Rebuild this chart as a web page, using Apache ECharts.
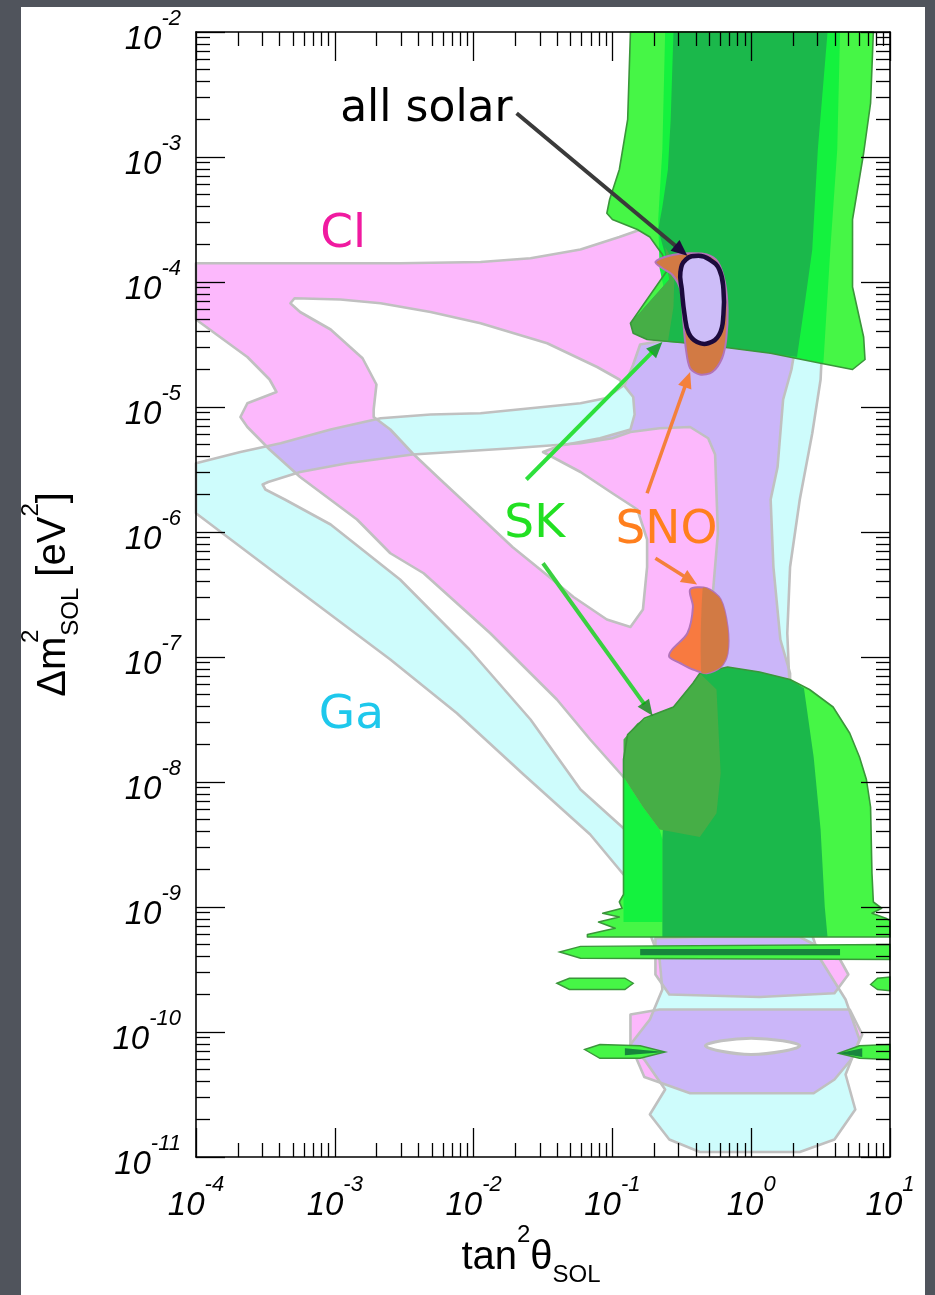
<!DOCTYPE html>
<html>
<head>
<meta charset="utf-8">
<title>Solar neutrino allowed regions</title>
<script src="https://cdn.jsdelivr.net/npm/echarts@6/dist/echarts.min.js"></script>
<style>
  html, body { margin:0; padding:0; width:935px; height:1295px; overflow:hidden; background:#50545c; }
  #panel { position:absolute; left:21px; top:7px; width:904px; height:1300px; background:#ffffff; }
  #chart { position:absolute; left:0; top:0; width:935px; height:1295px; }
</style>
</head>
<body>
<div id="panel"></div>
<div id="chart"></div>
<script>
// ---------- axes (log10 of the values) ----------
const X_DECADES = [-4, -3, -2, -1, 0, 1];            // tan^2(theta)
const Y_DECADES = [-2, -3, -4, -5, -6, -7, -8, -9, -10, -11]; // Delta m^2 [eV^2]

// ---------- regions: [log10 tan^2, log10 dm^2] ----------
const GA_OUTER = [[-4.00,-5.45],[-3.68,-5.36],[-3.39,-5.29],[-3.03,-5.18],[-2.67,-5.09],[-2.31,-5.06],[-1.95,-5.05],[-1.59,-5.01],[-1.23,-4.97],[-1.05,-4.93],[-0.91,-4.82],[-0.85,-4.66],[-0.80,-4.50],[-0.37,-4.42],[0.21,-4.42],[0.51,-4.54],[0.50,-4.78],[0.44,-5.21],[0.35,-5.74],[0.28,-6.28],[0.26,-6.81],[0.28,-7.34],[0.32,-8.14],[0.35,-8.94],[0.50,-9.42],[0.68,-9.74],[0.78,-10.06],[0.68,-10.34],[0.75,-10.62],[0.60,-10.86],[0.35,-10.96],[-0.37,-10.96],[-0.59,-10.86],[-0.73,-10.66],[-0.62,-10.46],[-0.77,-10.22],[-0.87,-10.10],[-0.73,-9.90],[-0.64,-9.66],[-0.66,-9.42],[-0.74,-9.18],[-0.80,-8.94],[-0.89,-8.78],[-1.16,-8.42],[-1.64,-7.94],[-2.12,-7.45],[-2.60,-7.02],[-3.32,-6.42],[-4.00,-5.85]];
const GA_HOLE = [[-3.48,-5.60],[-3.25,-5.52],[-2.91,-5.45],[-2.44,-5.38],[-1.72,-5.33],[-1.23,-5.29],[-1.00,-5.25],[-0.87,-5.20],[-0.66,-5.17],[-0.44,-5.16],[-0.31,-5.25],[-0.26,-5.38],[-0.24,-6.01],[-0.28,-6.54],[-0.28,-7.02],[-0.25,-7.34],[-0.24,-7.98],[-0.26,-8.38],[-0.37,-8.45],[-0.66,-8.42],[-0.91,-8.38],[-1.23,-8.06],[-1.59,-7.50],[-2.03,-6.94],[-2.53,-6.38],[-3.03,-5.94],[-3.36,-5.74],[-3.50,-5.66],[-3.52,-5.62]];
const GA_LOOP = [[-0.33,-10.11],[0.00,-10.05],[0.35,-10.11],[0.00,-10.18]];

const CL_OUTER = [[-4.00,-3.85],[-3.25,-3.85],[-2.53,-3.85],[-1.95,-3.84],[-1.59,-3.81],[-1.23,-3.74],[-0.95,-3.64],[-0.77,-3.57],[-0.59,-3.62],[-0.44,-4.14],[-0.01,-4.42],[0.32,-4.50],[0.29,-4.70],[0.23,-4.94],[0.19,-5.48],[0.14,-5.74],[0.16,-6.28],[0.21,-6.86],[0.28,-7.13],[0.28,-7.82],[0.24,-8.54],[-0.22,-8.50],[-0.37,-8.44],[-0.66,-8.38],[-0.78,-8.20],[-0.92,-7.96],[-1.16,-7.66],[-1.40,-7.34],[-1.88,-6.81],[-2.36,-6.33],[-2.60,-6.17],[-2.84,-5.90],[-3.25,-5.56],[-3.47,-5.34],[-3.63,-5.16],[-3.68,-5.08],[-3.63,-4.97],[-3.42,-4.88],[-3.47,-4.78],[-3.63,-4.60],[-4.00,-4.30]];
const CL_HOLE = [[-3.29,-4.13],[-2.96,-4.14],[-2.67,-4.17],[-2.31,-4.24],[-1.95,-4.33],[-1.47,-4.49],[-1.11,-4.68],[-0.95,-4.78],[-0.85,-4.92],[-0.84,-5.06],[-0.87,-5.18],[-1.09,-5.25],[-1.38,-5.31],[-1.50,-5.36],[-1.23,-5.52],[-1.00,-5.69],[-0.82,-5.82],[-0.75,-6.06],[-0.75,-6.28],[-0.78,-6.62],[-0.87,-6.76],[-1.04,-6.70],[-1.28,-6.52],[-1.52,-6.30],[-1.72,-6.12],[-1.95,-5.88],[-2.24,-5.58],[-2.44,-5.37],[-2.60,-5.18],[-2.72,-5.08],[-2.72,-5.02],[-2.70,-4.82],[-2.80,-4.61],[-3.03,-4.38],[-3.25,-4.24],[-3.32,-4.17]];
const CL_LOW1 = [[-0.69,-9.25],[-0.37,-9.24],[0.35,-9.24],[0.63,-9.40],[0.70,-9.54],[0.60,-9.69],[0.06,-9.72],[-0.59,-9.70],[-0.69,-9.54]];
const CL_LOW2 = [[-0.87,-9.86],[-0.66,-9.82],[0.71,-9.82],[0.80,-10.02],[0.72,-10.22],[0.60,-10.38],[0.45,-10.49],[-0.44,-10.49],[-0.77,-10.36],[-0.87,-10.10]];

const SK_LIGHT_UP = [[-0.87,-2.00],[-0.89,-2.70],[-0.95,-3.10],[-1.02,-3.34],[-1.04,-3.45],[-1.00,-3.50],[-0.82,-3.58],[-0.73,-3.64],[-0.64,-3.78],[-0.60,-3.90],[-0.87,-4.33],[-0.85,-4.41],[-0.75,-4.46],[-0.35,-4.50],[0.14,-4.57],[0.50,-4.65],[0.73,-4.70],[0.82,-4.62],[0.81,-4.44],[0.73,-4.04],[0.73,-3.50],[0.81,-2.97],[0.86,-2.57],[0.88,-2.00]];
const SK_BRIGHT_UP = [[-0.62,-2.00],[-0.64,-2.94],[-0.67,-3.50],[-0.66,-3.89],[-0.62,-4.10],[-0.60,-4.48],[-0.35,-4.50],[0.14,-4.57],[0.52,-4.65],[0.57,-3.74],[0.62,-2.94],[0.64,-2.00]];
const SK_DARK_UP = [[-0.56,-2.00],[-0.58,-2.70],[-0.60,-3.10],[-0.64,-3.40],[-0.67,-3.58],[-0.62,-3.78],[-0.59,-3.98],[-0.87,-4.33],[-0.85,-4.41],[-0.75,-4.46],[-0.35,-4.50],[0.14,-4.57],[0.33,-4.60],[0.39,-4.14],[0.44,-3.74],[0.48,-2.94],[0.55,-2.00]];
const SK_OLIVE_UP = [[-0.62,-3.72],[-0.59,-3.98],[-0.87,-4.33],[-0.85,-4.41],[-0.75,-4.46],[-0.60,-4.48],[-0.56,-4.20],[-0.55,-3.85]];

const SK_LIGHT_LOW = [[-1.18,-9.22],[-0.98,-9.17],[-1.10,-9.12],[-0.95,-9.08],[-1.07,-9.05],[-0.93,-9.01],[-0.95,-8.96],[-0.92,-8.90],[-0.92,-7.82],[-0.89,-7.62],[-0.77,-7.49],[-0.56,-7.40],[-0.42,-7.21],[-0.37,-7.13],[-0.17,-7.08],[0.06,-7.12],[0.28,-7.18],[0.42,-7.26],[0.59,-7.40],[0.71,-7.61],[0.78,-7.80],[0.83,-7.98],[0.86,-8.20],[0.87,-8.73],[0.88,-8.96],[0.94,-9.01],[0.87,-9.05],[0.97,-9.09],[1.00,-9.11],[1.00,-9.24],[-1.18,-9.24]];
const SK_BRIGHT_LOW = [[-0.92,-7.96],[-0.78,-8.20],[-0.66,-8.38],[-0.64,-8.46],[-0.64,-9.12],[-0.92,-9.12]];
const SK_DARK_LOW = [[-0.64,-9.24],[-0.64,-8.46],[-0.62,-8.00],[-0.55,-7.55],[-0.37,-7.13],[-0.17,-7.08],[0.06,-7.12],[0.28,-7.18],[0.38,-7.25],[0.45,-7.80],[0.50,-8.38],[0.53,-9.00],[0.55,-9.24]];
const SK_OLIVE_LOW = [[-0.92,-7.96],[-0.92,-7.66],[-0.82,-7.53],[-0.68,-7.45],[-0.56,-7.40],[-0.42,-7.21],[-0.37,-7.13],[-0.25,-7.26],[-0.22,-7.93],[-0.25,-8.25],[-0.37,-8.44],[-0.66,-8.38],[-0.78,-8.20]];
const SK_STRIPE = [[-1.38,-9.36],[-1.23,-9.315],[1.00,-9.30],[1.00,-9.42],[-1.23,-9.41]];
const SK_STRIPE_DARK = [[-0.80,-9.335],[0.64,-9.335],[0.64,-9.385],[-0.80,-9.385]];
const SK_BLOB_L1 = [[-1.40,-9.61],[-1.31,-9.57],[-0.91,-9.57],[-0.85,-9.61],[-0.91,-9.66],[-1.31,-9.66]];
const SK_BLOB_R1 = [[0.86,-9.62],[0.91,-9.57],[1.00,-9.56],[1.00,-9.67],[0.91,-9.66]];
const SK_BLOB_L2 = [[-1.20,-10.14],[-1.09,-10.10],[-0.80,-10.11],[-0.62,-10.16],[-0.80,-10.21],[-1.09,-10.21]];
const SK_BLOB_L2_DARK = [[-0.91,-10.13],[-0.62,-10.16],[-0.91,-10.185]];
const SK_BLOB_R2 = [[0.63,-10.17],[0.78,-10.11],[1.00,-10.10],[1.00,-10.22],[0.78,-10.21]];
const SK_BLOB_R2_DARK = [[0.63,-10.17],[0.80,-10.13],[0.80,-10.20]];

const SNO_UP = [[-0.69,-3.84],[-0.59,-3.79],[-0.44,-3.77],[-0.32,-3.78],[-0.24,-3.84],[-0.19,-4.00],[-0.17,-4.22],[-0.18,-4.46],[-0.21,-4.61],[-0.28,-4.72],[-0.37,-4.74],[-0.44,-4.69],[-0.47,-4.54],[-0.49,-4.30],[-0.51,-4.06],[-0.57,-3.94],[-0.64,-3.89]];
const SNO_LOW = [[-0.44,-6.46],[-0.32,-6.45],[-0.22,-6.54],[-0.17,-6.76],[-0.17,-6.97],[-0.22,-7.08],[-0.32,-7.13],[-0.42,-7.10],[-0.51,-7.05],[-0.59,-7.00],[-0.57,-6.94],[-0.46,-6.81],[-0.42,-6.60]];
const SNO_LOW_RIGHT = [[-0.35,-6.45],[-0.32,-6.45],[-0.22,-6.54],[-0.17,-6.76],[-0.17,-6.97],[-0.22,-7.08],[-0.32,-7.13],[-0.36,-7.12]];
const ALL_SOLAR = [[-0.47,-3.82],[-0.38,-3.79],[-0.30,-3.82],[-0.23,-3.90],[-0.20,-4.06],[-0.20,-4.26],[-0.23,-4.42],[-0.31,-4.49],[-0.39,-4.48],[-0.45,-4.41],[-0.48,-4.26],[-0.50,-4.06],[-0.51,-3.92]];

// ---------- annotations ----------
const ARROW_ALL = [[-1.69,-2.65],[-0.46,-3.79]];
const ARROW_SK_UP = [[-1.62,-5.58],[-0.64,-4.48]];
const ARROW_SK_LOW = [[-1.50,-6.25],[-0.71,-7.47]];
const ARROW_SNO_UP = [[-0.75,-5.69],[-0.44,-4.72]];
const ARROW_SNO_LOW = [[-0.69,-6.21],[-0.39,-6.42]];
const LABEL_TEXT = ['all solar', 'Cl', 'Ga', 'SK', 'SNO'];
const LABEL_POS = [[-2.34,-2.62],[-2.94,-3.62],[-2.88,-7.47],[-1.56,-5.94],[-0.61,-5.99]];

// ---------- styling ----------
const FONT = '"Liberation Sans", Helvetica, Arial, sans-serif';
const LFONT = '"DejaVu Sans", Verdana, sans-serif';
const CYAN = '#cefcfc', PINK = '#fcb8fc', GRAY = '#c0c0c0';
const LIGHTG = '#46f646', BRIGHTG = '#14f23e', DARKG = '#1bb84b', OLIVE = '#46ae46', GEDGE = '#3a963a';
const SK_ARROW_UP = '#2ee03c', SK_ARROW_LOW = '#3ad040';
const MULTIPLY_FILLS = [CYAN, PINK, SK_ARROW_UP, SK_ARROW_LOW];
const LABEL_COLORS = ['#000000', '#f01aa0', '#1ec8ec', '#22e022', '#ff7f1e'];

const xMin = Math.min(...X_DECADES), xMax = Math.max(...X_DECADES);
const yMin = Math.min(...Y_DECADES), yMax = Math.max(...Y_DECADES);

function minorTicks(decades) {
  const lo = Math.min(...decades), hi = Math.max(...decades), v = [];
  for (let e = lo; e < hi; e++) for (let k = 2; k <= 9; k++) v.push(e + Math.log10(k));
  return v;
}
function signedArea(p) {
  let a = 0;
  for (let i = 0; i < p.length; i++) { const q = p[(i + 1) % p.length]; a += p[i][0] * q[1] - q[0] * p[i][1]; }
  return a / 2;
}
function keyhole(outer, holes) {
  let pts = outer.slice();
  const s = Math.sign(signedArea(outer));
  const start = outer[0];
  holes.forEach(h => {
    const hh = Math.sign(signedArea(h)) === s ? h.slice().reverse() : h.slice();
    pts.push(start);
    pts = pts.concat(hh);
    pts.push(hh[0]);
    pts.push(start);
  });
  return pts;
}

const tickRich = {
  b: { fontFamily: FONT, fontStyle: 'italic', fontSize: 33, lineHeight: 48, verticalAlign: 'bottom', color: '#000' },
  s: { fontFamily: FONT, fontStyle: 'italic', fontSize: 22, verticalAlign: 'top', color: '#000' }
};
const titleRich = {
  a: { fontFamily: FONT, fontSize: 40, lineHeight: 70, color: '#000' },
  p: { fontFamily: FONT, fontSize: 24, verticalAlign: 'top', color: '#000', width: 1 },
  q: { fontFamily: FONT, fontSize: 24, verticalAlign: 'top', color: '#000' },
  c: { fontFamily: FONT, fontSize: 24, verticalAlign: 'bottom', padding: [0, 0, 6, 0], color: '#000' }
};
const fmt = v => '{b|10}{s|' + Math.round(v) + '}';

function mkAxis(kind, position, major, withLabels, extra) {
  const isX = kind === 'x';
  const ax = {
    type: 'value', gridIndex: 0, position: position,
    min: isX ? xMin : yMin, max: isX ? xMax : yMax, interval: 1, z: 30,
    axisLine: { show: major, onZero: false, lineStyle: { color: '#000', width: 1.6 } },
    axisTick: { show: true, inside: true, length: major ? 29 : 14, lineStyle: { color: '#000', width: 1.3 } },
    axisLabel: { show: withLabels, margin: isX ? 17 : 15, formatter: fmt, rich: tickRich },
    splitLine: { show: false }, minorTick: { show: false }, minorSplitLine: { show: false }
  };
  if (!major) ax.axisTick.customValues = minorTicks(isX ? X_DECADES : Y_DECADES);
  return Object.assign(ax, extra || {});
}

function renderItem(params, api) {
  const P = ring => ring.map(p => api.coord(p));
  const ch = [];
  const fill = (pts, color, extra) => ch.push({ type: 'polygon', silent: true,
    shape: { points: pts, smooth: (extra && extra.smooth) || 0 },
    style: Object.assign({ fill: color, stroke: 'none' }, (extra && extra.style) || {}) });
  const stroke = (pts, color, w, smooth) => ch.push({ type: 'polygon', silent: true,
    shape: { points: pts, smooth: smooth || 0 },
    style: { fill: 'none', stroke: color, lineWidth: w, lineJoin: 'round' } });

  // Ga and Cl (multiply blending gives the lavender overlap)
  fill(keyhole(P(GA_OUTER), [P(GA_HOLE)]), CYAN);
  fill(keyhole(P(CL_OUTER), [P(CL_HOLE)]), PINK);
  fill(P(CL_LOW1), PINK);
  fill(P(CL_LOW2), PINK);
  [GA_OUTER, GA_HOLE, CL_OUTER, CL_HOLE, CL_LOW1, CL_LOW2].forEach(r => stroke(P(r), GRAY, 2.6));
  fill(P(GA_LOOP), '#ffffff', { smooth: 0.4, style: { stroke: GRAY, lineWidth: 3 } });

  // SK upper
  fill(P(SK_LIGHT_UP), LIGHTG);
  fill(P(SK_BRIGHT_UP), BRIGHTG);
  fill(P(SK_DARK_UP), DARKG);
  fill(P(SK_OLIVE_UP), OLIVE);
  stroke(P(SK_LIGHT_UP), GEDGE, 1.6);
  // SK lower
  fill(P(SK_LIGHT_LOW), LIGHTG);
  fill(P(SK_BRIGHT_LOW), BRIGHTG);
  fill(P(SK_DARK_LOW), DARKG);
  fill(P(SK_OLIVE_LOW), OLIVE);
  stroke(P(SK_LIGHT_LOW), GEDGE, 1.6);
  [SK_STRIPE, SK_BLOB_L1, SK_BLOB_R1, SK_BLOB_L2, SK_BLOB_R2].forEach(r => {
    fill(P(r), LIGHTG, { style: { stroke: GEDGE, lineWidth: 1.4 } });
  });
  [SK_STRIPE_DARK, SK_BLOB_L2_DARK, SK_BLOB_R2_DARK].forEach(r => fill(P(r), '#17863c'));

  // SNO
  fill(P(SNO_UP), '#d27a44', { smooth: 0.3, style: { stroke: '#b273b8', lineWidth: 2 } });
  fill(P(SNO_LOW), '#f87a40', { smooth: 0.3, style: { stroke: '#b273b8', lineWidth: 2 } });
  fill(P(SNO_LOW_RIGHT), '#d27a44', { smooth: 0.3 });

  // all solar
  fill(P(ALL_SOLAR), '#cdbdf8', { smooth: 0.45, style: { stroke: '#1c0a3c', lineWidth: 4.5 } });

  // arrows
  const arrow = (seg, color, w, headColor) => {
    const a = api.coord(seg[0]), b = api.coord(seg[1]);
    const dx = b[0] - a[0], dy = b[1] - a[1], L = Math.hypot(dx, dy);
    const ux = dx / L, uy = dy / L, hl = 16, hw = 7;
    const bx = b[0] - ux * hl, by = b[1] - uy * hl;
    ch.push({ type: 'line', silent: true, shape: { x1: a[0], y1: a[1], x2: bx + ux * 2, y2: by + uy * 2 },
      style: { stroke: color, lineWidth: w, lineCap: 'butt' } });
    ch.push({ type: 'polygon', silent: true,
      shape: { points: [[b[0], b[1]], [bx - uy * hw, by + ux * hw], [bx + uy * hw, by - ux * hw]] },
      style: { fill: headColor || color, stroke: 'none' } });
  };
  arrow(ARROW_ALL, '#3a3a3a', 4, '#1c0a3c');
  arrow(ARROW_SK_UP, SK_ARROW_UP, 4);
  arrow(ARROW_SK_LOW, SK_ARROW_LOW, 4);
  arrow(ARROW_SNO_UP, '#f4803c', 3.5);
  arrow(ARROW_SNO_LOW, '#f4803c', 3.5);

  // labels
  LABEL_TEXT.forEach((t, i) => {
    const p = api.coord(LABEL_POS[i]);
    ch.push({ type: 'text', silent: true, x: p[0], y: p[1],
      style: { text: t, fill: LABEL_COLORS[i], fontFamily: LFONT, fontSize: i === 0 ? 44 : 47,
               align: 'center', verticalAlign: 'middle' } });
  });
  return { type: 'group', children: ch };
}

const chart = echarts.init(document.getElementById('chart'), null, { renderer: 'canvas' });
chart.setOption({
  backgroundColor: 'transparent',
  animation: false,
  grid: { left: 196, right: 45, top: 32, bottom: 138, containLabel: false, outerBoundsMode: 'none' },
  xAxis: [
    mkAxis('x', 'bottom', true, true, {
      name: '{a|tan}{q|2}{a|θ}{c|SOL}', nameLocation: 'middle', nameGap: 66, nameMoveOverlap: false,
      nameTextStyle: { rich: titleRich, padding: [0, 24, 0, 0] } }),
    mkAxis('x', 'bottom', false, false),
    mkAxis('x', 'top', true, false),
    mkAxis('x', 'top', false, false)
  ],
  yAxis: [
    mkAxis('y', 'left', true, true, {
      name: '{a|Δm}{p|2}{c|SOL}{a| [eV}{q|2}{a|]}', nameLocation: 'middle', nameRotate: 90, nameGap: 107,
      nameMoveOverlap: false, nameTextStyle: { rich: titleRich } }),
    mkAxis('y', 'left', false, false),
    mkAxis('y', 'right', true, false),
    mkAxis('y', 'right', false, false)
  ],
  series: [{
    type: 'custom', coordinateSystem: 'cartesian2d', xAxisIndex: 0, yAxisIndex: 0,
    data: [[xMin, yMin]], renderItem: renderItem, silent: true, z: 2
  }]
});

// Overlapping Cl / Ga regions combine multiplicatively (cyan x pink = lavender), as in the original figure.
function applyMultiply() {
  const zr = chart.getZr();
  const wanted = MULTIPLY_FILLS.map(c => c.toLowerCase());
  zr.storage.getDisplayList(true).forEach(el => {
    const st = el.style || {};
    const f = typeof st.fill === 'string' ? st.fill.toLowerCase() : '';
    const s = typeof st.stroke === 'string' ? st.stroke.toLowerCase() : '';
    if (wanted.indexOf(f) >= 0 || (wanted.indexOf(s) >= 0 && (!f || f === 'none'))) {
      el.style.blend = 'multiply';
      el.markRedraw();
    }
  });
  zr.refreshImmediately();
}
applyMultiply();
</script>
</body>
</html>
